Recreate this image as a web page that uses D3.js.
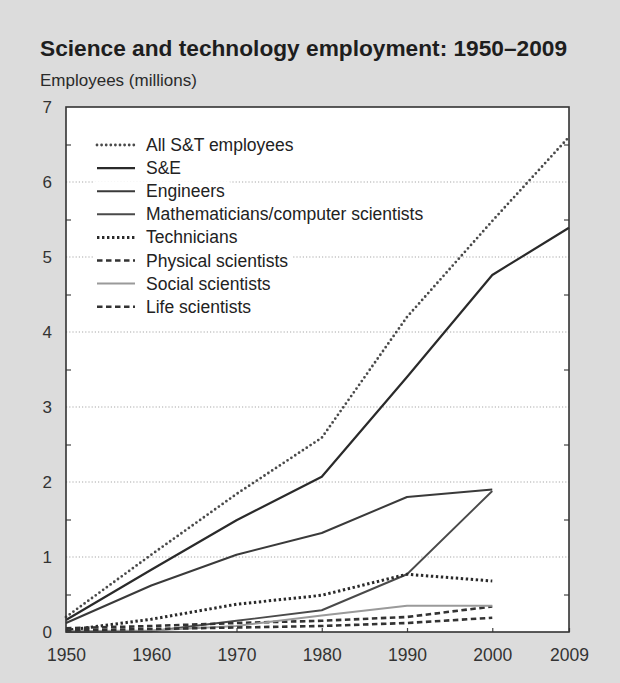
<!DOCTYPE html>
<html>
<head>
<meta charset="utf-8">
<script src="https://cdn.jsdelivr.net/npm/d3@7"></script>
<style>
  html, body { margin: 0; padding: 0; background: #dcdcdc; }
  svg { display: block; font-family: "Liberation Sans", Arial, Helvetica, sans-serif; }
</style>
</head>
<body>
<svg id="chart" width="620" height="683"></svg>
<script>
// ---- data ----
const years = [1950, 1960, 1970, 1980, 1990, 2000, 2009];
const xTickLabels = ["1950", "1960", "1970", "1980", "1990", "2000", "2009"];
const yTickLabels = [0, 1, 2, 3, 4, 5, 6, 7];
const seriesNames = ["All S&T employees", "S&E", "Engineers", "Mathematicians/computer scientists",
                     "Technicians", "Physical scientists", "Social scientists", "Life scientists"];
const allST       = [0.20, 1.03, 1.84, 2.59, 4.20, 5.48, 6.60];
const sAndE       = [0.16, 0.83, 1.49, 2.07, 3.40, 4.76, 5.39];
const engineers   = [0.12, 0.62, 1.03, 1.32, 1.80, 1.90];
const mathComp    = [0.00, 0.01, 0.15, 0.29, 0.77, 1.88];
const technicians = [0.02, 0.17, 0.37, 0.49, 0.77, 0.68];
const physical    = [0.05, 0.08, 0.12, 0.15, 0.20, 0.34];
const social      = [0.01, 0.02, 0.08, 0.22, 0.35, 0.35];
const life        = [0.02, 0.04, 0.06, 0.08, 0.12, 0.19];

const seriesValues = [allST, sAndE, engineers, mathComp, technicians, physical, social, life];
const styles = [
  { stroke: "#4a4a4a", width: 2.8, dash: "0,4.6", cap: "round" },
  { stroke: "#2a2a2a", width: 2.2, dash: null, cap: "butt" },
  { stroke: "#3a3a3a", width: 2.0, dash: null, cap: "butt" },
  { stroke: "#4a4a4a", width: 1.9, dash: null, cap: "butt" },
  { stroke: "#2a2a2a", width: 3.0, dash: "2.4,2.6", cap: "butt" },
  { stroke: "#333333", width: 2.6, dash: "5.5,3.5", cap: "butt" },
  { stroke: "#9a9a9a", width: 2.0, dash: null, cap: "butt" },
  { stroke: "#333333", width: 2.6, dash: "5.5,3.5", cap: "butt" }
];

// ---- layout ----
const svg = d3.select("#chart");
const L = 66, R = 569, T = 107, B = 632;

const x = d3.scaleLinear().domain([1950, 2009]).range([L, R]);
const y = d3.scaleLinear().domain([0, 7]).range([B, T]);

// title
svg.append("text").attr("x", 40).attr("y", 56)
  .attr("font-size", 22.7).attr("font-weight", "bold").attr("fill", "#1e1e1e")
  .text("Science and technology employment: 1950\u20132009");
svg.append("text").attr("x", 40).attr("y", 86)
  .attr("font-size", 17).attr("fill", "#2a2a2a")
  .text("Employees (millions)");

// plot background
svg.append("rect").attr("x", L).attr("y", T).attr("width", R - L).attr("height", B - T)
  .attr("fill", "#ffffff");

// gridlines
svg.append("g").selectAll("line").data(yTickLabels.filter(v => v > 0 && v < 7)).join("line")
  .attr("x1", L).attr("x2", R).attr("y1", d => y(d)).attr("y2", d => y(d))
  .attr("stroke", "#a8a8a8").attr("stroke-width", 1.2).attr("stroke-dasharray", "1.2,2");

// minor ticks at half values on left and right (inward)
const halfTicks = d3.range(0.5, 7, 1);
const yLeft = d3.axisLeft(y).tickValues(halfTicks).tickSize(-5).tickFormat("");
const yRight = d3.axisRight(y).tickValues(halfTicks).tickSize(-5).tickFormat("");
svg.append("g").attr("transform", `translate(${L},0)`).call(yLeft)
  .call(g => g.select(".domain").remove())
  .selectAll("line").attr("stroke", "#444").attr("stroke-width", 1.2);
svg.append("g").attr("transform", `translate(${R},0)`).call(yRight)
  .call(g => g.select(".domain").remove())
  .selectAll("line").attr("stroke", "#444").attr("stroke-width", 1.2);

// y labels
const yLab = d3.axisLeft(y).tickValues(yTickLabels).tickSize(0).tickPadding(14).tickFormat(d3.format("d"));
svg.append("g").attr("transform", `translate(${L},0)`).call(yLab)
  .call(g => g.select(".domain").remove())
  .selectAll("text").attr("font-size", 17).attr("fill", "#333")
  .attr("font-family", "Liberation Sans, Arial, sans-serif");

// x axis
const xAx = d3.axisBottom(x).tickValues(years).tickSize(-4).tickPadding(17)
  .tickFormat((d, i) => xTickLabels[i]);
svg.append("g").attr("transform", `translate(0,${B})`).call(xAx)
  .call(g => g.select(".domain").remove())
  .call(g => g.selectAll("line").attr("stroke", "#444").attr("stroke-width", 1.2))
  .selectAll("text").attr("font-size", 17.5).attr("fill", "#333")
  .attr("font-family", "Liberation Sans, Arial, sans-serif");

// legend
const legY0 = 145, legDy = 23.1, symX1 = 97, symX2 = 135, txtX = 146;
const leg = svg.append("g");
seriesNames.forEach((name, i) => {
  const row = leg.append("g").attr("transform", `translate(0,${legY0 + i * legDy})`);
  const rect = row.append("rect").attr("fill", "#ffffff");
  const s = styles[i];
  row.append("line").attr("x1", symX1).attr("x2", symX2).attr("y1", 0).attr("y2", 0)
    .attr("stroke", s.stroke).attr("stroke-width", s.width)
    .attr("stroke-dasharray", s.dash).attr("stroke-linecap", s.cap);
  const t = row.append("text").attr("x", txtX).attr("y", 6)
    .attr("font-size", 17.5).attr("fill", "#222").text(name);
  const w = t.node().getComputedTextLength();
  rect.attr("x", symX1 - 3).attr("y", -10).attr("width", txtX + w - symX1 + 8).attr("height", 20);
});

// lines
const line = d3.line().x((d, i) => x(years[i])).y(d => y(d));
const gLines = svg.append("g");
seriesValues.forEach((vals, i) => {
  const s = styles[i];
  gLines.append("path").datum(vals)
    .attr("d", line)
    .attr("fill", "none")
    .attr("stroke", s.stroke).attr("stroke-width", s.width)
    .attr("stroke-dasharray", s.dash).attr("stroke-linecap", s.cap)
    .attr("stroke-linejoin", "round");
});

// frame
svg.append("rect").attr("x", L).attr("y", T).attr("width", R - L).attr("height", B - T)
  .attr("fill", "none").attr("stroke", "#333").attr("stroke-width", 1.6);
</script>
</body>
</html>
